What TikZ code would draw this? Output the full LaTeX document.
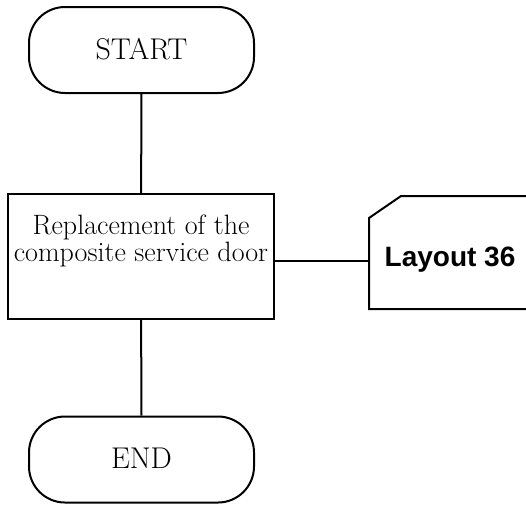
\documentclass[tikz,border=0pt]{standalone}
\usepackage{fontspec}
\newfontfamily\cardfont{Liberation Sans}
\tikzset{terminal/.style={draw,rectangle,rounded corners=36pt,minimum width=225pt,
    minimum height=86pt,inner sep=0pt,font=\fontsize{30}{31}\selectfont},
  procbox/.style={draw,rectangle,minimum width=266pt,minimum height=125pt,
    inner sep=0pt,align=center,font=\fontsize{28}{27}\selectfont},
  cardbox/.style={rectangle,minimum width=160pt,minimum height=111pt,inner sep=0pt,
    font=\cardfont\bfseries\fontsize{28}{30}\selectfont},
  link/.style={draw}}

\begin{document}
\begin{tikzpicture}[x=1pt,y=-1pt,line width=2pt]
    \useasboundingbox (0,0) rectangle (526,504);
    \node[terminal] (start) at (141.5,50) {\raisebox{3pt}{START}};
    \node[procbox] (repl) at (141,256.5) {Replacement of the\\composite service door\\[9pt]\mbox{}};
    \node[cardbox] (layout) at (450,252.5) {\raisebox{-14pt}[0pt][0pt]{Layout 36}};
    \node[terminal] (end) at (141.5,459.5) {\raisebox{2pt}{END}};
    % card outline with the cut corner
    \draw ([yshift=-22pt]layout.north west)--([xshift=32pt]layout.north west)
      --(layout.north east)--(layout.south east)--(layout.south west)--cycle;
    \draw[link] (start)--(repl);
    \draw[link] (repl)--(end);
    \draw[link] ([yshift=-4pt]repl.east)--([yshift=-4pt]repl.east -| layout.west);
  \end{tikzpicture}
\end{document}
